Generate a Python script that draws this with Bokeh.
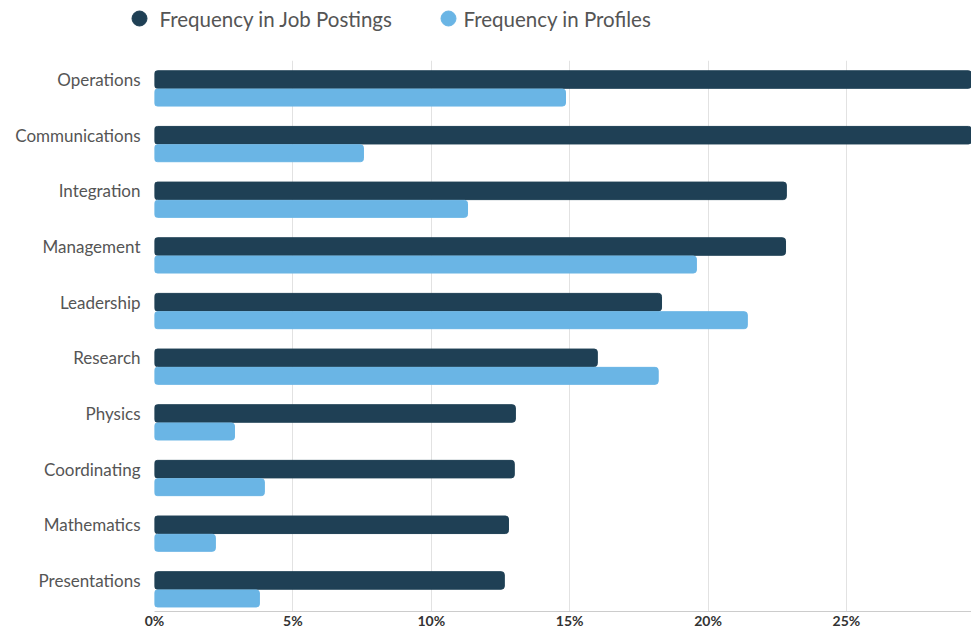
from bokeh.plotting import figure
from bokeh.layouts import column
from bokeh.models import (ColumnDataSource, Range1d, NumeralTickFormatter, FixedTicker)
from bokeh.core.properties import value
from bokeh.embed import file_html
from bokeh.resources import INLINE

skills = ["Operations", "Communications", "Integration", "Management", "Leadership",
          "Research", "Physics", "Coordinating", "Mathematics", "Presentations"]
job_postings = [29.77, 29.66, 22.83, 22.80, 18.32, 16.00, 13.04, 13.00, 12.79, 12.64]
profiles = [14.85, 7.55, 11.31, 19.58, 21.42, 18.20, 2.89, 3.97, 2.20, 3.79]
tick_values = [0, 5, 10, 15, 20, 25]
series_names = ["Frequency in Job Postings", "Frequency in Profiles"]

DARK = "#1f4055"
LIGHT = "#6ab5e5"
TEXT = "#555555"

pos = [-i for i in range(len(skills))]
src = ColumnDataSource(dict(
    pos=pos,
    pos2=[y - 0.324 for y in pos],
    job=[v / 100 for v in job_postings],
    prof=[v / 100 for v in profiles],
))

# ---- legend strip (own small figure) ----
leg = figure(width=971, height=52, output_backend="svg", toolbar_location=None,
             x_range=Range1d(0, 971), y_range=Range1d(0, 52),
             min_border=0, min_border_left=0, min_border_right=0,
             min_border_top=0, min_border_bottom=0, outline_line_color=None)
leg.frame_align = False
leg.axis.visible = False
leg.grid.visible = False
leg_src = ColumnDataSource(dict(x=[139, 448], y=[34, 34], tx=[159, 463],
                                color=[DARK, LIGHT], label=series_names))
leg.scatter("x", "y", source=leg_src, marker="circle", size=15, color="color")
leg.text("tx", "y", text="label", source=leg_src, text_font=value("Lato"),
         text_font_size="20.5px", text_color=TEXT, text_baseline="middle", text_align="left")

# ---- main chart ----
p = figure(width=971, height=579, output_backend="svg", toolbar_location=None,
           y_range=Range1d(-9.558, 0.342),
           x_range=Range1d(0, 0.2952),
           min_border_left=154, min_border_right=0, min_border_top=8, min_border_bottom=17)
p.frame_align = False

p.hbar(y="pos", right="job", left=0, height=0.315, source=src, color=DARK, border_radius=3)
p.hbar(y="pos2", right="prof", left=0, height=0.305, source=src, color=LIGHT, border_radius=3)

p.outline_line_color = None
p.background_fill_color = "white"
p.border_fill_color = "white"

p.xaxis.ticker = FixedTicker(ticks=[v / 100 for v in tick_values])
p.xaxis.formatter = NumeralTickFormatter(format="0%")
p.xaxis.major_label_text_font = "Lato"
p.xaxis.major_label_text_font_style = "bold"
p.xaxis.major_label_text_font_size = "14px"
p.xaxis.major_label_text_color = "#333333"
p.xaxis.axis_line_color = "#cccccc"
p.xaxis.major_tick_line_color = None
p.xaxis.minor_tick_line_color = None
p.xaxis.major_tick_out = 0
p.xaxis.major_tick_in = 0
p.xaxis.minor_tick_out = 0
p.xaxis.major_label_standoff = 0

p.yaxis.ticker = FixedTicker(ticks=pos)
p.yaxis.major_label_overrides = {y: s for y, s in zip(pos, skills)}
p.yaxis.major_label_text_font = "Lato"
p.yaxis.major_label_text_font_size = "17px"
p.yaxis.major_label_text_color = TEXT
p.yaxis.axis_line_color = None
p.yaxis.major_tick_line_color = None
p.yaxis.minor_tick_line_color = None
p.yaxis.major_tick_out = 0
p.yaxis.major_tick_in = 0
p.yaxis.minor_tick_out = 0
p.yaxis.major_label_standoff = 14

p.xgrid.grid_line_color = "#e2e2e2"
p.ygrid.grid_line_color = None

layout = column(leg, p, spacing=0)
open("out.html", "w").write(file_html(layout, INLINE))
